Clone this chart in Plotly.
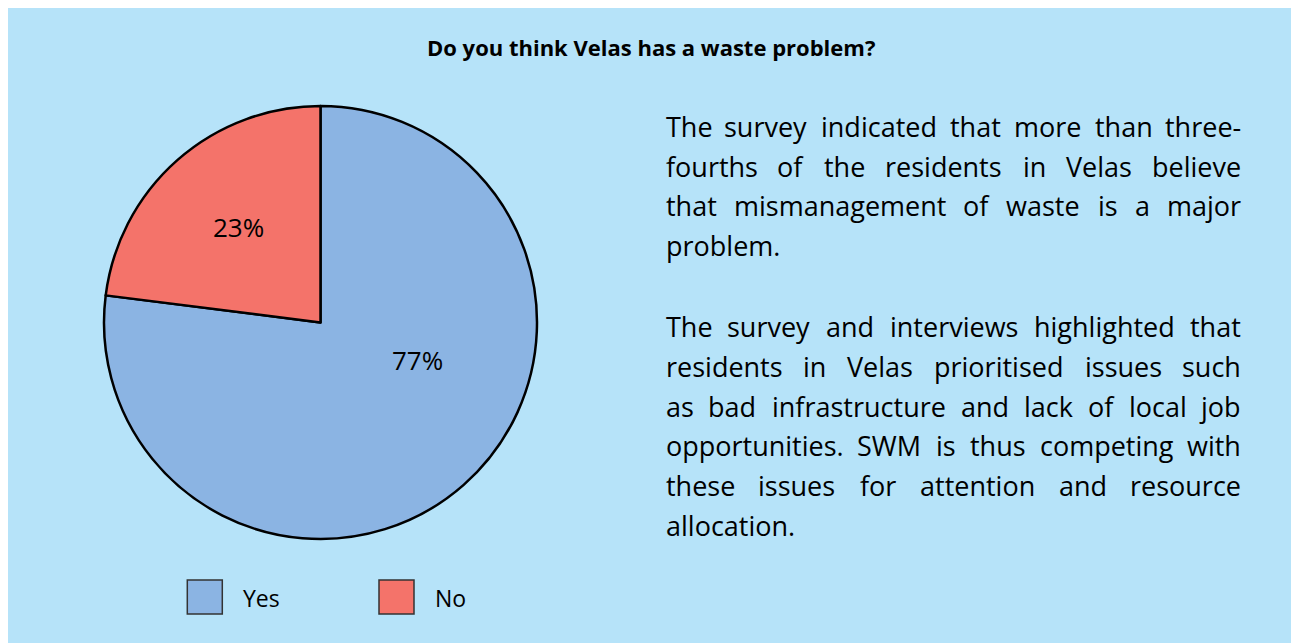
import plotly.graph_objects as go

# ---------------- data ----------------
labels = ["Yes", "No"]
values = [77, 23]
colors = ["#8bb4e3", "#f4736a"]
title_text = "Do you think Velas has a waste problem?"
para1_lines = [
    "The survey indicated that more than three-",
    "fourths of the residents in Velas believe",
    "that mismanagement of waste is a major",
    "problem.",
]
para2_lines = [
    "The survey and interviews highlighted that",
    "residents in Velas prioritised issues such",
    "as bad infrastructure and lack of local job",
    "opportunities. SWM is thus competing with",
    "these issues for attention and resource",
    "allocation.",
]

# ---------------- layout helpers ----------------
W, H = 1283, 635
FONT = "Open Sans"


def px(x):
    return x / W


def py(y):
    return 1 - y / H


# approximate Open Sans advance widths (units per em = 2048), used to justify text
ADV = {
    " ": 532, "a": 1139, "b": 1255, "c": 975, "d": 1255, "e": 1149, "f": 694,
    "g": 1122, "h": 1257, "i": 518, "j": 518, "k": 1075, "l": 518, "m": 1905,
    "n": 1257, "o": 1237, "p": 1255, "q": 1255, "r": 836, "s": 977, "t": 723,
    "u": 1257, "v": 1026, "w": 1593, "x": 1073, "y": 1028, "z": 977,
    "T": 1104, "S": 1128, "W": 1919, "M": 1853, "V": 1186, ".": 545, "-": 659,
}


def text_w(s, fs):
    return sum(ADV.get(c, 1100) for c in s) * fs / 2048


fig = go.Figure(
    go.Pie(
        labels=labels,
        values=values,
        sort=False,
        direction="clockwise",
        rotation=0,
        marker=dict(colors=colors, line=dict(color="black", width=2.5)),
        textinfo="none",
        hoverinfo="label+percent",
        showlegend=False,
        domain=dict(x=[px(96), px(529)], y=[py(531), py(98)]),
    )
)

annotations = []
shapes = []

# title
annotations.append(dict(
    text="<b>" + title_text + "</b>", x=px(642.5), y=py(38.5),
    xref="paper", yref="paper", xanchor="center", yanchor="middle",
    showarrow=False, font=dict(family=FONT, size=22, color="black"),
))

# percentage labels (text derived from values)
label_pos = {"Yes": (409, 351.5), "No": (230.3, 219)}
for lab, v in zip(labels, values):
    x, y = label_pos[lab]
    annotations.append(dict(
        text=f"{v}%", x=px(x), y=py(y), xref="paper", yref="paper",
        xanchor="center", yanchor="middle", showarrow=False,
        font=dict(family=FONT, size=26, color="black"),
    ))

# legend (custom, large swatches)
leg_x = [179.3, 371.0]
for lab, col, x0 in zip(labels, colors, leg_x):
    shapes.append(dict(
        type="rect", xref="paper", yref="paper",
        x0=px(x0), x1=px(x0 + 35), y0=py(606), y1=py(572),
        fillcolor=col, line=dict(color="#333333", width=1.5),
    ))
    annotations.append(dict(
        text=lab, x=px(x0 + 55), y=py(590), xref="paper", yref="paper",
        xanchor="left", yanchor="middle", showarrow=False, borderpad=0,
        font=dict(family=FONT, size=23, color="black"),
    ))

# justified body text
BFS = 27
XL, XR = 657, 1234


def add_paragraph(lines, first_baseline, pitch=39.7):
    for i, line in enumerate(lines):
        yc = first_baseline + i * pitch - 0.33 * BFS
        last = i == len(lines) - 1
        if last:
            annotations.append(dict(
                text=line, x=px(XL), y=py(yc), xref="paper", yref="paper",
                xanchor="left", yanchor="middle", showarrow=False, borderpad=0,
                font=dict(family=FONT, size=BFS, color="black"),
            ))
            continue
        words = line.split(" ")
        widths = [text_w(w, BFS) for w in words]
        gap = (XR - XL - sum(widths)) / (len(words) - 1)
        xcur = XL
        for j, (wd, ww) in enumerate(zip(words, widths)):
            if j == 0:
                x, anc = XL, "left"
            elif j == len(words) - 1:
                x, anc = XR, "right"
            else:
                x, anc = xcur + ww / 2, "center"
            annotations.append(dict(
                text=wd, x=px(x), y=py(yc), xref="paper", yref="paper",
                xanchor=anc, yanchor="middle", showarrow=False, borderpad=0,
                font=dict(family=FONT, size=BFS, color="black"),
            ))
            xcur += ww + gap


add_paragraph(para1_lines, 127.5)
add_paragraph(para2_lines, 327.7)

fig.update_layout(
    width=W, height=H,
    margin=dict(l=0, r=0, t=0, b=0),
    paper_bgcolor="#b6e3f9",
    plot_bgcolor="#b6e3f9",
    annotations=annotations,
    shapes=shapes,
    showlegend=False,
)

page_style = (
    "document.body.style.overflow='hidden';"
    "document.body.style.margin='8px 0 0 8px';"
)
fig.write_html("out.html", post_script=page_style)
